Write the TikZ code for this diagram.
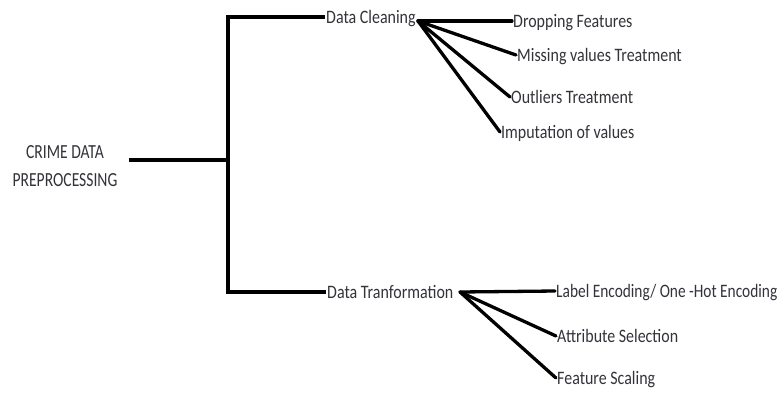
\documentclass[tikz,border=0pt]{standalone}
\usepackage{fontspec}
\setmainfont{Carlito}
\definecolor{txt}{HTML}{33333A}
\newcommand{\sq}[1]{\scalebox{0.84}[1]{#1}}
\newcommand{\sqn}[1]{\scalebox{0.81}[1]{#1}}
\newcommand{\sqt}[1]{\scalebox{0.78}[1]{#1}}
\begin{document}
\begin{tikzpicture}[x=1pt,y=-1pt,
  conn/.style={line width=4pt, black},
  fan/.style={line width=3.3pt, black, line cap=round},
  leaf/.style={anchor=west, inner xsep=1pt, inner ysep=0pt, text height=16pt, text depth=4pt, text=txt, font=\fontsize{19}{22}\selectfont},
  rootbox/.style={align=center, inner xsep=11pt, inner ysep=0pt, text=txt, font=\fontsize{20}{28}\selectfont},
]
\useasboundingbox[fill=white] (0,0) rectangle (782,392);
% nodes
\node[rootbox] (root) at (65,166) {\sqt{CRIME DATA}\\\sqt{PREPROCESSING}};
\node[leaf] (dc) at (325,17) {\sq{Data Cleaning}};
\node[leaf] (dt) at (326,292) {\sq{Data Tranformation}};
\node[leaf] (c1) at (512,21) {\sq{Dropping Features}};
\node[leaf] (c2) at (516,55) {\sq{Missing values Treatment}};
\node[leaf] (c3) at (510,97) {\sq{Outliers Treatment}};
\node[leaf] (c4) at (500,132) {\sq{Imputation of values}};
\node[leaf] (t1) at (555,291) {\sqn{Label Encoding/ One -Hot Encoding}};
\node[leaf] (t2) at (556,336) {\sq{Attribute Selection}};
\node[leaf] (t3) at (556,378) {\sq{Feature Scaling}};
% coordinates
\coordinate (top) at (228,17);
\coordinate (bot) at (228,292);
\coordinate (j) at (228,160);
\coordinate (dcf) at (418,21);
\coordinate (dtf) at (460,292);
% connectors
\draw[conn] (dc.west) -- (top) -- (bot) -- (dt.west);
\draw[conn] (root.east |- j) -- (j);
\foreach \n in {c1,c2,c3,c4} \draw[fan] (dcf) -- (\n.west);
\foreach \n in {t1,t2,t3} \draw[fan] (dtf) -- (\n.west);
\end{tikzpicture}
\end{document}
